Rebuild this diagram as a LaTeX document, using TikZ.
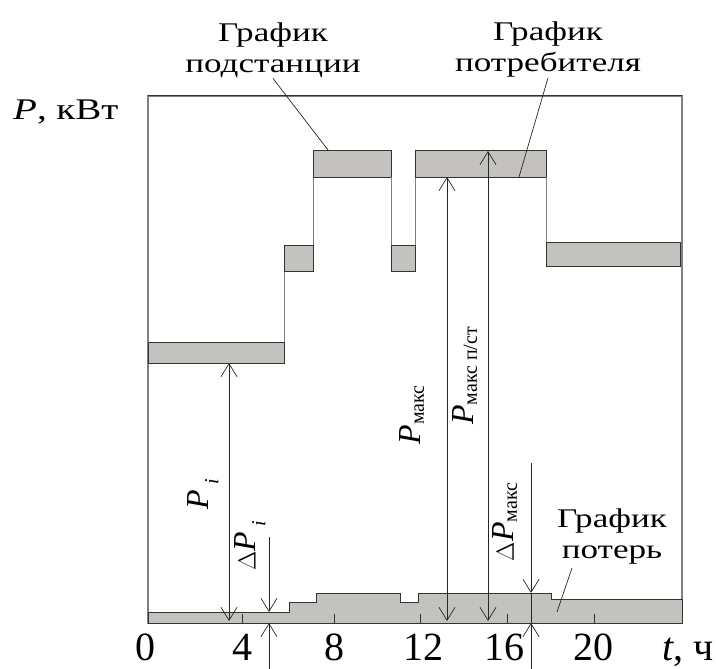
\documentclass[tikz,border=0pt]{standalone}
\usepackage{fontspec}
\setmainfont{Liberation Serif}
\newfontfamily\lblfont[FakeStretch=1.3]{Liberation Serif}
\usetikzlibrary{calc,arrows.meta}

\definecolor{fuell}{RGB}{195,194,191}
\definecolor{kante}{RGB}{51,51,51}
\definecolor{rahmen}{RGB}{128,128,128}

\tikzset{
  block/.style={fill=fuell, draw=kante, line width=0.9pt},
  stufe/.style={draw=rahmen, line width=0.9pt},
  mass/.style={draw=black!85, line width=0.7pt},
  beschr/.style={font=\lblfont\fontsize{27}{31}\selectfont, align=center, inner sep=0pt, anchor=base},
  zahl/.style={font=\fontsize{40}{40}\selectfont, inner sep=0pt, text depth=0pt, anchor=base},
  drehtext/.style={font=\fontsize{32}{32}\selectfont, inner sep=0pt, rotate=90},
}
\newcommand\idx[2]{\raisebox{#1}{\fontsize{20}{20}\selectfont #2}}

\begin{document}
\begin{tikzpicture}[x=1pt,y=-1pt,>={Straight Barb[length=13pt,width=16pt]}]
\useasboundingbox (0,0) rectangle (716,669);

%RAHMEN
\draw [draw=rahmen, line width=1.6pt] (148,96) rectangle (682,623);
\draw [draw=kante, line width=1pt] (148,96) -- (682,96);

%GRAFIK DER VERLUSTE (unten)
\draw [block] (148,623) -- (148,612) -- (289,612) -- (289,602) -- (316,602) -- (316,593)
  -- (400,593) -- (400,602) -- (418,602) -- (418,593) -- (551,593) -- (551,599)
  -- (682,599) -- (682,623) -- cycle;

%STRICHE AUF DER ZEITACHSE
\draw [draw=kante, line width=0.9pt] (242,623) -- (242,614);
\draw [draw=kante, line width=0.9pt] (334,623) -- (334,614);
\draw [draw=kante, line width=0.9pt] (420,623) -- (420,614);
\draw [draw=kante, line width=0.9pt] (507,623) -- (507,614);
\draw [draw=kante, line width=0.9pt] (594,623) -- (594,614);

%STUFE NR. 0 (von links)
\draw [block] (148,342) rectangle (284,363);
\draw [stufe] (284,342) -- (284,271);

%STUFE NR. 1 (von links)
\draw [block] (284,245) rectangle (313,271);
\draw [stufe] (313,245) -- (313,177);

%STUFE NR. 2 (von links)
\draw [block] (313,150) rectangle (391,177);
\draw [stufe] (391,177) -- (391,245);

%STUFE NR. 3 (von links)
\draw [block] (391,245) rectangle (415,271);
\draw [stufe] (415,245) -- (415,177);

%STUFE NR. 4 (von links)
\draw [block] (415,150) rectangle (546,177);
\draw [stufe] (546,177) -- (546,242);

%STUFE NR. 5 (von links)
\draw [block] (546,242) rectangle (680,266);

%PUNKTE FUER DIE PFEILE
\coordinate (pi o) at (229,363);
\coordinate (pi u) at (229,621);
\coordinate (pmax o) at (447,177);
\coordinate (pmax u) at (447,621);
\coordinate (pps o) at (488,151);
\coordinate (pps u) at (488,621);
\coordinate (dpi a) at (269,537);
\coordinate (dpi b) at (269,612);
\coordinate (dpi c) at (269,623);
\coordinate (dpi d) at (269,669);
\coordinate (dpm a) at (531,463);
\coordinate (dpm b) at (531,593);
\coordinate (dpm c) at (531,623);
\coordinate (dpm d) at (531,669);

%PFEILE
\draw [mass,<->] (pi o) -- (pi u);
\draw [mass,<->] (pmax o) -- (pmax u);
\draw [mass,<->] (pps o) -- (pps u);
\draw [mass,->] (dpi a) -- (dpi b);
\draw [mass,->] (dpi d) -- (dpi c);
\draw [mass,->] (dpm a) -- (dpm b);
\draw [mass] (dpm b) -- (dpm c);
\draw [mass,->] (dpm d) -- (dpm c);

%GEDREHTE BESCHRIFTUNGEN
\node [drehtext] (lpi) at (203,494) {\textit{P}\,\idx{-0.3em}{\textit{i}}};
\node [drehtext] (ldpi) at (250,546) {$\Delta$\textit{P}\,\idx{-0.3em}{\textit{i}}};
\node [drehtext] (lpmax) at (412,415) {\textit{P}\idx{-0.1em}{макс}};
\node [drehtext] (lpps) at (465,376) {\textit{P}\idx{-0.1em}{макс п/ст}};
\node [drehtext] (ldpm) at (505,522) {$\Delta$\textit{P}\idx{-0.1em}{макс}};

%BESCHRIFTUNGEN DER GRAFIKEN
\node [beschr] (lsub) at (273,73) {График\\подстанции};
\node [beschr] (lcons) at (548,72) {График\\потребителя};
\node [beschr] (lloss) at (612,558) {График\\потерь};

\coordinate (lsub e) at (328,150);
\coordinate (lcons e) at (519,177);
\coordinate (lloss e) at (557,612);
\draw [mass] (lsub.south) -- (lsub e);
\draw [mass] (lcons.south) -- (lcons e);
\draw [mass] ($(lloss.south)+(-40,4)$) -- (lloss e);

%ACHSEN
\node [anchor=base west, inner sep=0pt, font=\lblfont\fontsize{30}{30}\selectfont] (pachse) at (13,120) {\textit{P}, кВт};
\node [zahl] (tachse) at (688,660) {\textit{t}, ч};

\node [zahl] (t0) at (145,660) {0};
\node [zahl] (t4) at (242,660) {4};
\node [zahl] (t8) at (334,660) {8};
\node [zahl] (t12) at (423,660) {12};
\node [zahl] (t16) at (504,660) {16};
\node [zahl] (t20) at (593,660) {20};

\end{tikzpicture}
\end{document}
